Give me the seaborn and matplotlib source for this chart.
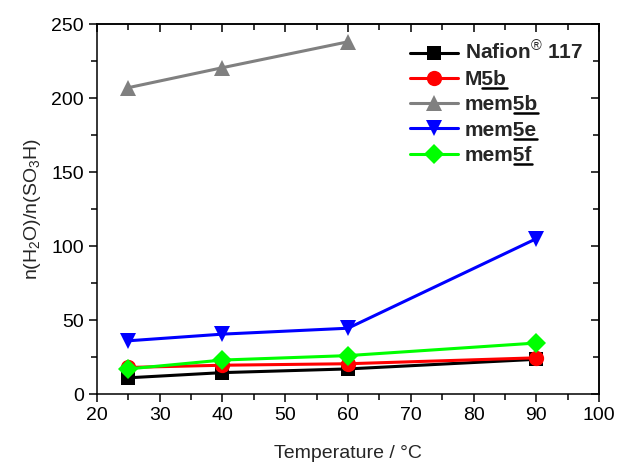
import matplotlib
matplotlib.use("Agg")
import matplotlib.pyplot as plt
from matplotlib.ticker import MultipleLocator
from matplotlib.lines import Line2D
import seaborn as sns
import pandas as pd

# Water uptake per sulfonic acid group at different temperatures
temperature = [25, 40, 60, 90]
temperature_mem5b = [25, 40, 60]

nafion117 = [11.0, 14.5, 17.0, 23.5]
m5b = [18.0, 19.5, 20.5, 24.5]
mem5b = [207.0, 220.5, 238.0]
mem5e = [36.0, 40.5, 44.5, 105.0]
mem5f = [17.0, 23.0, 26.0, 34.5]

labels = ["Nafion$^{®}$ 117", "M5b", "mem5b", "mem5e", "mem5f"]
# compound numbers that are underlined in the legend
underlined = [None, "5b", "5b", "5e", "5f"]
colors = ["#000000", "#ff0000", "#808080", "#0000ff", "#00ff00"]
markers = ["s", "o", "^", "v", "D"]

rows = []
for lab, xs, ys in zip(labels,
                       [temperature, temperature, temperature_mem5b, temperature, temperature],
                       [nafion117, m5b, mem5b, mem5e, mem5f]):
    for x, y in zip(xs, ys):
        rows.append({"T": x, "ratio": y, "sample": lab})
df = pd.DataFrame(rows)

sns.set_theme(style="white")
plt.rcParams["font.family"] = ["Liberation Sans", "DejaVu Sans"]
plt.rcParams["mathtext.fontset"] = "custom"
plt.rcParams["mathtext.rm"] = "Liberation Sans"
plt.rcParams["mathtext.it"] = "Liberation Sans:italic"
plt.rcParams["mathtext.bf"] = "Liberation Sans:bold"

fig = plt.figure(figsize=(6.17, 4.62), dpi=100)
ax = fig.add_axes([0.157, 0.147, 0.814, 0.801])

sns.lineplot(data=df, x="T", y="ratio", hue="sample", style="sample",
             hue_order=labels, style_order=labels,
             palette=dict(zip(labels, colors)),
             markers=dict(zip(labels, markers)),
             dashes=False, linewidth=2.2, markersize=11,
             markeredgewidth=0, ax=ax)

for line in ax.lines:
    if line.get_marker() in ("D", "s"):
        line.set_markersize(10)

ax.set_xlim(20, 100)
ax.set_ylim(0, 250)

ax.xaxis.set_major_locator(MultipleLocator(10))
ax.xaxis.set_minor_locator(MultipleLocator(5))
ax.yaxis.set_major_locator(MultipleLocator(50))
ax.yaxis.set_minor_locator(MultipleLocator(25))
ax.tick_params(which="both", direction="out", labelsize=14, colors="black",
               bottom=True, left=True, top=False, right=False)
ax.tick_params(which="major", length=6, width=1.1)
ax.tick_params(which="minor", length=4, width=1.1)

# mirrored axes with inward ticks on top and right
top = ax.secondary_xaxis("top")
right = ax.secondary_yaxis("right")
for sec, axis, major, minor in ((top, top.xaxis, 10, 5), (right, right.yaxis, 50, 25)):
    axis.set_major_locator(MultipleLocator(major))
    axis.set_minor_locator(MultipleLocator(minor))
    sec.tick_params(which="both", direction="in", colors="black",
                    labeltop=False, labelright=False)
    sec.tick_params(which="major", length=6, width=1.1)
    sec.tick_params(which="minor", length=4, width=1.1)
    for s in sec.spines.values():
        s.set_linewidth(1.1)
        s.set_color("black")

for s in ax.spines.values():
    s.set_color("black")
    s.set_linewidth(1.1)

ax.set_xlabel("Temperature / °C", fontsize=14, labelpad=15)
ax.set_ylabel(r"n(H$_2$O)/n(SO$_3$H)", fontsize=14, labelpad=6)

leg = ax.legend(loc="upper right", bbox_to_anchor=(0.968, 0.955), frameon=False,
                prop={"weight": "bold", "size": 15}, handlelength=2.3,
                handletextpad=0.35, labelspacing=0.3, borderaxespad=0.0,
                borderpad=0.0)

# underline the compound numbers in the legend entries
fig.canvas.draw()
renderer = fig.canvas.get_renderer()
W, H = fig.bbox.width, fig.bbox.height
for txt, part in zip(leg.get_texts(), underlined):
    if part is None:
        continue
    s = txt.get_text()
    prefix = s[: len(s) - len(part)]
    prop = txt.get_fontproperties()
    wp, _, _ = renderer.get_text_width_height_descent(prefix, prop, ismath=False)
    wf, _, _ = renderer.get_text_width_height_descent(s, prop, ismath=False)
    bb = txt.get_window_extent(renderer)
    y = bb.y0 + 1.0
    fig.add_artist(Line2D([(bb.x0 + wp) / W, (bb.x0 + wf) / W], [y / H, y / H],
                          transform=fig.transFigure, color="black", linewidth=1.8))

fig.savefig("out.png", dpi=100)
